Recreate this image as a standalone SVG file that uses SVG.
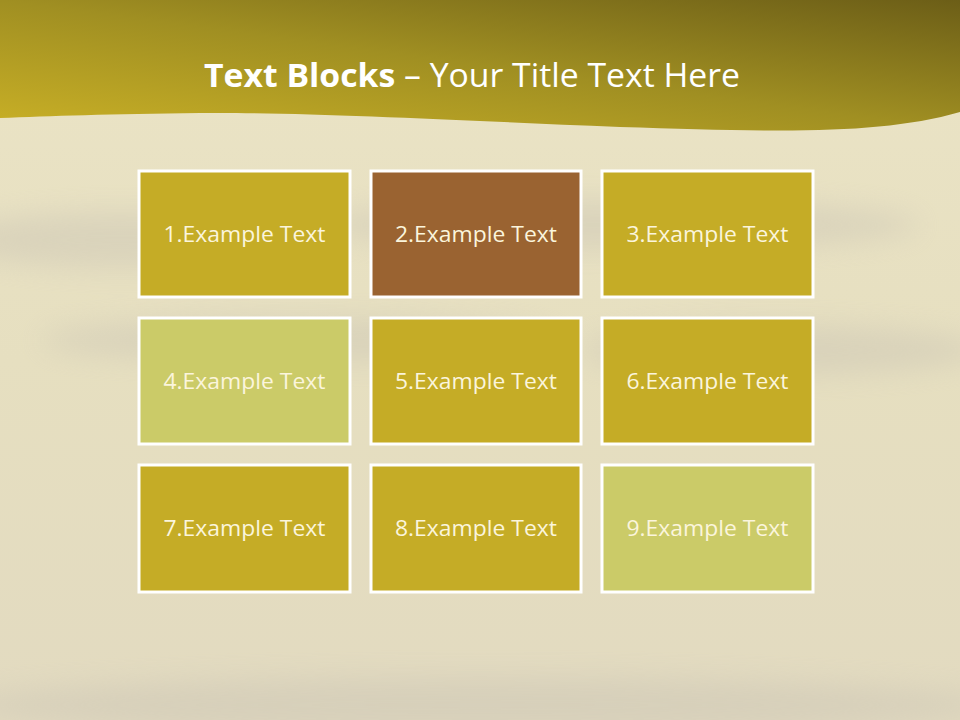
<svg xmlns="http://www.w3.org/2000/svg" width="960" height="720" viewBox="0 0 960 720">
<defs>
<linearGradient id="ban" x1="0" y1="1" x2="1" y2="0">
<stop offset="0" stop-color="#c9b026"/>
<stop offset="0.5" stop-color="#a08f22"/>
<stop offset="1" stop-color="#6c5e17"/>
</linearGradient>
<linearGradient id="bg" x1="0" y1="0" x2="0" y2="1">
<stop offset="0" stop-color="#ebe4c6"/>
<stop offset="0.5" stop-color="#e6dfc0"/>
<stop offset="1" stop-color="#e2dac0"/>
</linearGradient>
<filter id="blur" x="-20%" y="-50%" width="140%" height="200%"><feGaussianBlur stdDeviation="14"/></filter>
</defs>
<style>
.box{stroke:#ffffff;stroke-width:3}
.gold{fill:#c5ac26}
.brown{fill:#9a6331}
.lime{fill:#cbcb68}
.lbl{font-family:"Open Sans","Liberation Sans",sans-serif;font-size:22px;fill:#fbf5dc;text-anchor:middle;dominant-baseline:central}
.title{font-family:"Open Sans","Liberation Sans",sans-serif;font-size:32px;fill:#ffffff;text-anchor:middle}
</style>
<rect width="960" height="720" fill="url(#bg)"/>
<g filter="url(#blur)" fill="#c9c3b4" opacity="0.45">
<ellipse cx="120" cy="240" rx="170" ry="28"/>
<ellipse cx="620" cy="225" rx="300" ry="25"/>
<ellipse cx="300" cy="340" rx="260" ry="22"/>
<ellipse cx="780" cy="350" rx="200" ry="25"/>
<ellipse cx="480" cy="705" rx="520" ry="28"/>
</g>
<path d="M0 0H960V112C880 135 780 132 620 127C450 120 300 112 200 113C110 114 50 116 0 118Z" fill="url(#ban)"/>
<text class="title" x="472" y="87" textLength="536" lengthAdjust="spacingAndGlyphs"><tspan font-weight="bold">Text Blocks</tspan> – Your Title Text Here</text>
<g id="node1"><rect class="box gold" x="139" y="171" width="211" height="126"/><text class="lbl" x="244.5" y="233" textLength="162" lengthAdjust="spacingAndGlyphs">1.Example Text</text></g>
<g id="node2"><rect class="box brown" x="371" y="171" width="210" height="126"/><text class="lbl" x="476" y="233" textLength="162" lengthAdjust="spacingAndGlyphs">2.Example Text</text></g>
<g id="node3"><rect class="box gold" x="602" y="171" width="211" height="126"/><text class="lbl" x="707.5" y="233" textLength="162" lengthAdjust="spacingAndGlyphs">3.Example Text</text></g>
<g id="node4"><rect class="box lime" x="139" y="318" width="211" height="126"/><text class="lbl" x="244.5" y="380" textLength="162" lengthAdjust="spacingAndGlyphs">4.Example Text</text></g>
<g id="node5"><rect class="box gold" x="371" y="318" width="210" height="126"/><text class="lbl" x="476" y="380" textLength="162" lengthAdjust="spacingAndGlyphs">5.Example Text</text></g>
<g id="node6"><rect class="box gold" x="602" y="318" width="211" height="126"/><text class="lbl" x="707.5" y="380" textLength="162" lengthAdjust="spacingAndGlyphs">6.Example Text</text></g>
<g id="node7"><rect class="box gold" x="139" y="465" width="211" height="127"/><text class="lbl" x="244.5" y="527" textLength="162" lengthAdjust="spacingAndGlyphs">7.Example Text</text></g>
<g id="node8"><rect class="box gold" x="371" y="465" width="210" height="127"/><text class="lbl" x="476" y="527" textLength="162" lengthAdjust="spacingAndGlyphs">8.Example Text</text></g>
<g id="node9"><rect class="box lime" x="602" y="465" width="211" height="127"/><text class="lbl" x="707.5" y="527" textLength="162" lengthAdjust="spacingAndGlyphs">9.Example Text</text></g>
<g id="connectors"/>
</svg>
